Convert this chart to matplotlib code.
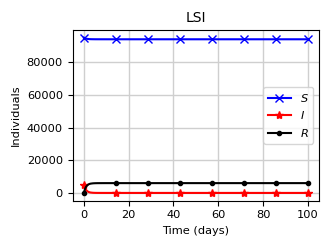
import matplotlib
matplotlib.use("Agg")
import matplotlib.pyplot as plt

t = [0, 0.25, 0.5, 0.75, 1, 1.5, 2, 2.5, 3, 4, 5, 6, 8, 10,
     14.29, 28.57, 42.86, 57.14, 71.43, 85.71, 100]
S = [95000, 94800, 94600, 94480, 94380, 94250, 94160, 94100, 94060, 94030, 94015, 94008, 94003, 94000,
     94000, 94000, 94000, 94000, 94000, 94000, 94000]
I = [5000, 3900, 3000, 2300, 1800, 1100, 650, 400, 250, 100, 40, 15, 5, 0,
     0, 0, 0, 0, 0, 0, 0]
R = [0, 1300, 2400, 3220, 3820, 4650, 5190, 5500, 5690, 5870, 5945, 5977, 5992, 6000,
     6000, 6000, 6000, 6000, 6000, 6000, 6000]
marks = [0, 14, 15, 16, 17, 18, 19, 20]

plt.rcParams['font.size'] = 8.2
fig = plt.figure(figsize=(3.32, 2.49), dpi=100)
ax = fig.add_axes([0.219, 0.194, 0.742, 0.686])
ax.plot(t, S, color='blue', marker='x', markevery=marks, label='$S$')
ax.plot(t, I, color='red', marker='*', markevery=marks, label='$I$')
ax.plot(t, R, color='black', marker='.', markevery=marks, label='$R$')
ax.set_title('LSI', fontsize=10)
ax.set_xlabel('Time (days)')
ax.set_ylabel('Individuals')
ax.grid(True, color='#cfcfcf', linewidth=1.0)
ax.legend(loc='center right')
fig.savefig('out.png', dpi=100)
